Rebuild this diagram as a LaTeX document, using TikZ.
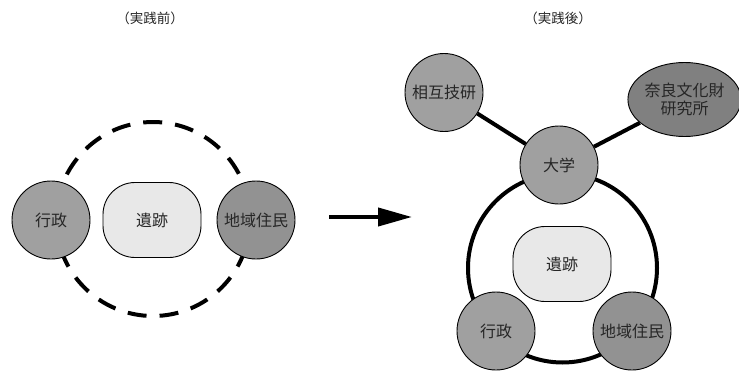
\documentclass[tikz,border=0pt]{standalone}
\usepackage{fontspec}
\newfontfamily\cjk{Noto Sans CJK JP}
\usetikzlibrary{shapes.geometric,arrows.meta}
\definecolor{siteFill}{HTML}{E8E8E8}
\definecolor{midFill}{HTML}{A0A0A0}
\definecolor{darkFill}{HTML}{929292}
\definecolor{deepFill}{HTML}{808080}
\definecolor{txt}{HTML}{262626}
\begin{document}
\begin{tikzpicture}[x=1pt,y=-1pt,
  actor/.style={circle, draw=black, line width=0.9pt, minimum size=78pt, inner sep=0pt,
    font=\cjk\fontsize{16}{18}\selectfont, text=txt},
  sitebox/.style={rectangle, rounded corners=32pt, draw=black, line width=0.9pt, fill=siteFill,
    minimum width=98pt, minimum height=75pt, inner sep=0pt,
    font=\cjk\fontsize{16}{18}\selectfont, text=txt},
  link/.style={line width=4pt, draw=black},
  headline/.style={font=\cjk\fontsize{13.5}{15}\selectfont, text=txt}]
\fill[white] (0,0) rectangle (739,372);
\useasboundingbox (0,0) rectangle (739,372);

% ---------- before ----------
\node[headline] (t1) at (150,18) {（実践前）};
\coordinate (ringL) at (153,219);
\draw[line width=4pt, dash pattern=on 19pt off 13.05pt, dash phase=1.4pt] (ringL) circle[radius=97];
\node[actor, fill=midFill] (gyoseiL) at (51,220) {行政};
\node[sitebox] (isekiL) at (152,220) {遺跡};
\node[actor, fill=darkFill] (juminL) at (256,220) {地域住民};

% ---------- arrow ----------
\coordinate (a1) at (329,217);
\coordinate (a2) at (412,217);
\draw[line width=4pt, -{Triangle[length=34pt,width=18pt]}] (a1) -- (a2);

% ---------- after ----------
\node[headline] (t2) at (558,18) {（実践後）};
\coordinate (ringR) at (562.5,268);
\draw[line width=4pt] (ringR) circle[radius=94.5];
\node[sitebox] (isekiR) at (562,264) {遺跡};
\node[actor, fill=midFill] (sogo) at (444,92.5) {相互技研};
\node[ellipse, draw=black, line width=0.9pt, fill=deepFill, minimum width=107pt, minimum height=74pt,
  inner sep=0pt, align=center, font=\cjk\fontsize{16}{18}\selectfont, text=txt] (nara) at (684.5,99.5) {奈良文化財\\研究所};
\node[actor, fill=midFill] (daigaku) at (559,165) {大学};
\draw[link] (sogo) -- (daigaku);
\draw[link] (daigaku) -- (nara);
\node[actor, fill=midFill] (gyoseiR) at (496,331) {行政};
\node[actor, fill=darkFill] (juminR) at (632,331) {地域住民};
\end{tikzpicture}
\end{document}
